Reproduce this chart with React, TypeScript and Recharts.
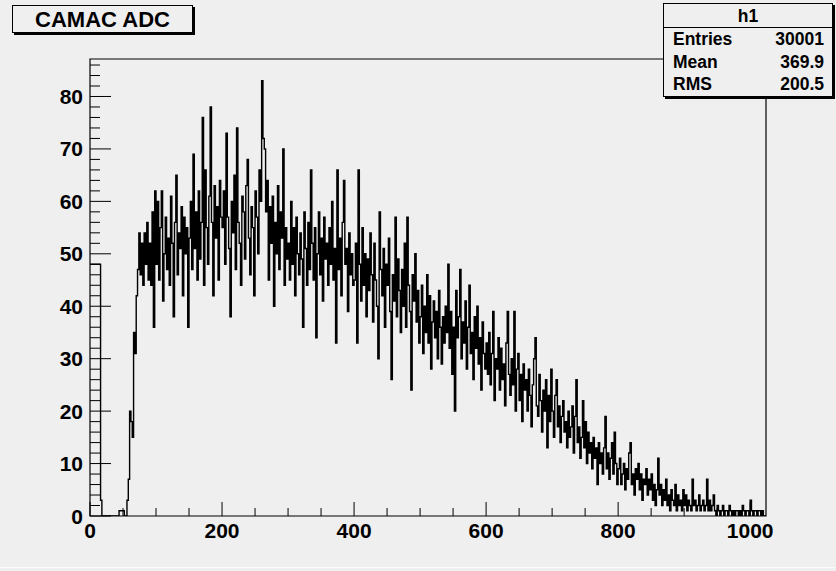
import { LineChart, Line, XAxis, YAxis, ReferenceArea } from 'recharts';

// bin contents, 2 ADC channels per bin
const counts0 = [
  48, 48, 48, 48, 48, 48, 48, 48, 3, 0,
  0, 0, 0, 0, 0, 0, 0, 0, 0, 0,
  0, 0, 1, 1, 1, 1, 0, 0, 3, 7,
  20, 18, 15, 35, 31, 42, 47, 54, 46, 52,
  44, 54, 48, 56, 45, 52, 44, 58, 36, 62,
];
const counts100 = [
  48, 60, 45, 55, 62, 41, 50, 57, 47, 53,
  44, 61, 52, 38, 56, 65, 46, 54, 51, 59,
  42, 57, 50, 55, 36, 53, 60, 47, 69, 51,
  58, 45, 62, 49, 56, 76, 44, 66, 55, 48,
  61, 78, 56, 42, 63, 53, 59, 45, 64, 57,
];
const counts200 = [
  55, 62, 48, 73, 57, 51, 38, 60, 54, 65,
  47, 74, 56, 52, 44, 61, 58, 49, 63, 68,
  53, 46, 59, 55, 42, 62, 57, 50, 66, 60,
  83, 72, 70, 58, 64, 45, 59, 52, 61, 40,
  56, 50, 63, 47, 58, 53, 70, 44, 55, 49,
];
const counts300 = [
  52, 45, 60, 48, 55, 42, 57, 50, 46, 54,
  49, 36, 58, 51, 44, 56, 47, 66, 52, 45,
  55, 34, 50, 58, 46, 53, 41, 57, 49, 52,
  44, 55, 48, 60, 45, 51, 33, 66, 47, 53,
  42, 56, 64, 48, 51, 39, 54, 46, 50, 44,
];
const counts400 = [
  45, 52, 33, 66, 48, 41, 55, 44, 50, 38,
  49, 43, 54, 46, 37, 52, 45, 40, 30, 58,
  47, 42, 51, 36, 48, 44, 53, 39, 26, 46,
  41, 57, 38, 49, 43, 35, 47, 40, 52, 36,
  57, 44, 39, 24, 46, 41, 50, 37, 43, 33,
];
const counts500 = [
  38, 44, 31, 40, 35, 46, 33, 42, 28, 37,
  41, 34, 39, 30, 43, 36, 29, 38, 33, 40,
  35, 48, 32, 39, 27, 36, 20, 43, 34, 38,
  47, 30, 37, 33, 41, 28, 36, 44, 31, 35,
  26, 38, 32, 40, 29, 34, 24, 37, 31, 28,
];
const counts600 = [
  33, 27, 35, 25, 31, 39, 22, 30, 28, 34,
  24, 32, 26, 29, 21, 33, 39, 27, 23, 30,
  25, 39, 20, 28, 31, 22, 27, 18, 29, 24,
  26, 20, 28, 23, 17, 25, 30, 34, 21, 19,
  27, 22, 16, 24, 20, 26, 13, 23, 18, 28,
];
const counts700 = [
  20, 15, 23, 26, 17, 21, 14, 19, 22, 16,
  18, 13, 20, 15, 17, 21, 12, 19, 26, 14,
  17, 11, 15, 22, 13, 18, 10, 16, 12, 14,
  9, 15, 11, 13, 6, 14, 10, 12, 8, 13,
  19, 9, 12, 7, 11, 14, 8, 16, 10, 6,
];
const counts800 = [
  9, 11, 6, 8, 10, 5, 9, 7, 12, 14,
  6, 8, 4, 9, 7, 10, 5, 8, 3, 7,
  6, 9, 4, 7, 5, 8, 3, 6, 2, 5,
  11, 4, 6, 2, 5, 3, 7, 2, 4, 1,
  5, 3, 2, 6, 1, 4, 2, 3, 1, 5,
];
const counts900 = [
  2, 4, 1, 3, 2, 1, 7, 2, 3, 1,
  2, 4, 1, 2, 3, 1, 2, 7, 1, 3,
  1, 2, 4, 1, 0, 2, 1, 0, 1, 2,
  0, 1, 1, 0, 2, 1, 0, 1, 0, 1,
  1, 0, 1, 0, 2, 1, 0, 1, 1, 0,
];
const counts1000 = [3, 1, 0, 1, 1, 0, 1, 1, 0, 1, 0, 0];

const xTicks = [0, 50, 100, 150, 200, 250, 300, 350, 400, 450, 500, 550, 600, 650, 700, 750, 800, 850, 900, 950, 1000];
const xLabels = [0, 200, 400, 600, 800, 1000];
const yTicks = [0, 2, 4, 6, 8, 10, 12, 14, 16, 18, 20, 22, 24, 26, 28, 30, 32, 34, 36, 38, 40, 42, 44, 46, 48, 50, 52, 54, 56, 58, 60, 62, 64, 66, 68, 70, 72, 74, 76, 78, 80, 82, 84, 86];
const yLabels = [0, 10, 20, 30, 40, 50, 60, 70, 80];

const title = 'CAMAC ADC';
const histName = 'h1';
const statLabels = ['Entries', 'Mean', 'RMS'];
const statValues = ['30001', '369.9', '200.5'];

const BIN_WIDTH = 2;
const X_MAX = 1024;
const Y_MAX = 87.15; // 1.05 * max bin

const PLOT_LEFT = 90;
const PLOT_BOTTOM = 516;
const BG = '#efefef';

const bins = [
  ...counts0, ...counts100, ...counts200, ...counts300, ...counts400, ...counts500,
  ...counts600, ...counts700, ...counts800, ...counts900, ...counts1000,
];
const data = bins.map((v, i) => ({ x: i * BIN_WIDTH, v }));
data.push({ x: X_MAX, v: bins[bins.length - 1] });

const labelFont = {
  fontFamily: '"Liberation Sans", Arial, sans-serif',
  fontWeight: 700,
  fontSize: 21,
  fill: '#000',
};

function XTick(props: any) {
  const { x, payload } = props;
  const major = xLabels.includes(payload.value);
  return (
    <g>
      <line x1={x} x2={x} y1={PLOT_BOTTOM} y2={PLOT_BOTTOM - (major ? 14 : 8)} stroke="#000" />
      {major && (
        <text x={x} y={538} textAnchor="middle" style={labelFont}>
          {payload.value}
        </text>
      )}
    </g>
  );
}

function YTick(props: any) {
  const { y, payload } = props;
  const major = yLabels.includes(payload.value);
  return (
    <g>
      <line x1={PLOT_LEFT} x2={PLOT_LEFT + (major ? 21 : 10)} y1={y} y2={y} stroke="#000" />
      {major && (
        <text x={83} y={y + 7.5} textAnchor="end" style={labelFont}>
          {payload.value}
        </text>
      )}
    </g>
  );
}

const boxFont = {
  fontFamily: '"Liberation Sans", Arial, sans-serif',
  fontWeight: 700,
  color: '#000',
};

export default function App() {
  return (
    <div style={{ position: 'absolute', left: 0, top: 0, width: 836, height: 571, background: BG, overflow: 'hidden' }}>
      <LineChart width={836} height={571} data={data} margin={{ top: 59, right: 70, bottom: 0, left: 0 }}>
        <XAxis
          type="number"
          dataKey="x"
          domain={[0, X_MAX]}
          ticks={xTicks}
          interval={0}
          tick={(p: any) => <XTick {...p} />}
          tickLine={false}
          axisLine={false}
          height={55}
          allowDataOverflow
        />
        <YAxis
          type="number"
          domain={[0, Y_MAX]}
          ticks={yTicks}
          interval={0}
          tick={(p: any) => <YTick {...p} />}
          tickLine={false}
          axisLine={false}
          width={90}
          allowDataOverflow
        />
        <ReferenceArea x1={0} x2={X_MAX} y1={0} y2={Y_MAX} fill="none" stroke="#000" strokeWidth={1.2} ifOverflow="visible" />
        <Line
          type="stepAfter"
          dataKey="v"
          stroke="#000"
          strokeWidth={1.4}
          dot={false}
          activeDot={false}
          isAnimationActive={false}
        />
      </LineChart>

      <div
        style={{
          ...boxFont,
          position: 'absolute',
          left: 12,
          top: 5,
          width: 179,
          height: 26,
          border: '1px solid #000',
          boxShadow: '2px 2px 0 #000',
          background: BG,
          fontSize: 22,
          lineHeight: '27px',
          textAlign: 'center',
        }}
      >
        {title}
      </div>

      <div
        style={{
          ...boxFont,
          position: 'absolute',
          left: 663,
          top: 3,
          width: 168,
          height: 92,
          border: '1px solid #000',
          boxShadow: '2px 2px 0 #000',
          background: BG,
          fontSize: 17.5,
        }}
      >
        <div style={{ height: 23, lineHeight: '24px', textAlign: 'center', borderBottom: '1px solid #000' }}>{histName}</div>
        {statLabels.map((s, i) => (
          <div
            key={s}
            style={{ display: 'flex', justifyContent: 'space-between', height: 22.6, lineHeight: '23px', padding: '0 8px 0 9px' }}
          >
            <span>{s}</span>
            <span>{statValues[i]}</span>
          </div>
        ))}
      </div>
      <div style={{ position: 'absolute', left: 0, top: 567, width: 836, height: 1, background: '#fbfbfb' }} />
    </div>
  );
}
